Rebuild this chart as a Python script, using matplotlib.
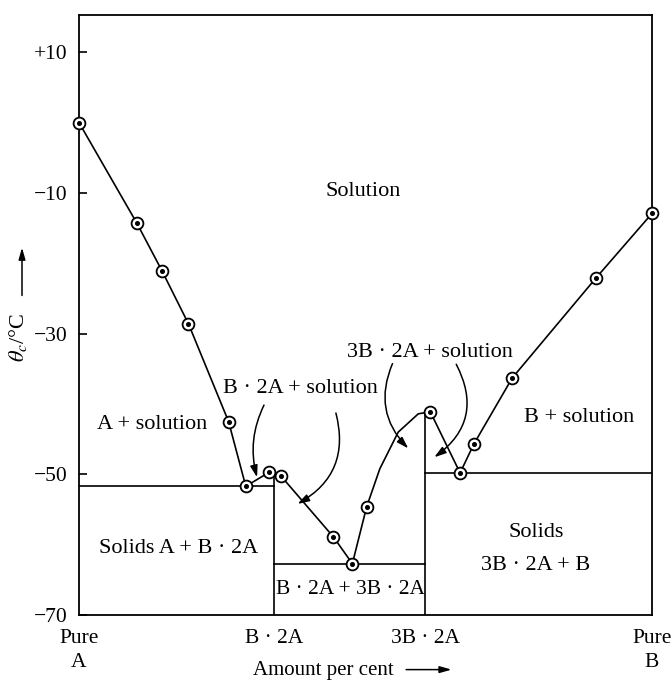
import matplotlib.pyplot as plt

plt.rcParams['font.family'] = ['Liberation Serif', 'DejaVu Sans']
plt.rcParams['mathtext.fontset'] = 'stix'

# measured freezing points (composition in % B, temperature in deg C)
meas_x = [0, 10.1, 14.5, 19.1, 26.1, 29.1, 33.2, 35.2, 44.4, 47.7, 50.2,
          61.3, 66.5, 68.9, 75.6, 90.2, 100]
meas_t = [0, -14.3, -21.1, -28.6, -42.5, -51.7, -49.7, -50.2, -58.9, -62.7, -54.6,
          -41.1, -49.8, -45.7, -36.3, -22.1, -12.9]

arc_x = [52.5, 55.7, 59.2]
arc_t = [-49.2, -44.0, -41.4]

# compounds and eutectic temperatures
compound_x = [34.1, 60.4]
compound_top = [-50.4, -41.1]
eutectic_t = [-51.7, -62.7, -49.8]

tick_t = [10, -10, -30, -50, -70]
tick_t_labels = ['+10', '\u221210', '\u221230', '\u221250', '\u221270']
tick_x = [0, compound_x[0], compound_x[1], 100]
tick_x_labels = ['Pure\nA', 'B \u00b7 2A', '3B \u00b7 2A', 'Pure\nB']

fig = plt.figure(figsize=(6.72, 6.81), dpi=100)
ax = fig.add_axes([0.1176, 0.0969, 0.8527, 0.881])

line_x = meas_x[:11] + arc_x + meas_x[11:]
line_t = meas_t[:11] + arc_t + meas_t[11:]
ax.plot(line_x, line_t, color='black', lw=1.2, zorder=2)

# phase boundaries
ax.plot([0, compound_x[0]], [eutectic_t[0]] * 2, color='black', lw=1.2)
ax.plot([compound_x[0], compound_x[1]], [eutectic_t[1]] * 2, color='black', lw=1.2)
ax.plot([compound_x[1], 100], [eutectic_t[2]] * 2, color='black', lw=1.2)
for cx, top in zip(compound_x, compound_top):
    ax.plot([cx, cx], [top, -70], color='black', lw=1.2)

# circled-dot markers
ax.plot(meas_x, meas_t, 'o', ms=8.5, mfc='white', mec='black', mew=1.3,
        zorder=3, clip_on=False)
ax.plot(meas_x, meas_t, 'o', ms=2.6, color='black', zorder=4, clip_on=False)

fs = 16
ax.text(49.6, -9.8, 'Solution', ha='center', va='center', fontsize=fs)
ax.text(12.7, -42.9, 'A + solution', ha='center', va='center', fontsize=fs)
ax.text(38.6, -37.8, 'B \u00b7 2A + solution', ha='center', va='center', fontsize=fs)
ax.text(61.3, -32.7, '3B \u00b7 2A + solution', ha='center', va='center', fontsize=fs)
ax.text(87.3, -41.9, 'B + solution', ha='center', va='center', fontsize=fs)
ax.text(17.4, -60.5, 'Solids A + B \u00b7 2A', ha='center', va='center', fontsize=fs)
ax.text(79.7, -58.2, 'Solids', ha='center', va='center', fontsize=fs)
ax.text(79.7, -62.9, '3B \u00b7 2A + B', ha='center', va='center', fontsize=fs)
ax.text(47.3, -66.4, 'B \u00b7 2A + 3B \u00b7 2A', ha='center', va='center', fontsize=15.5)

# curved pointer arrows from the labels
arr = dict(arrowstyle='-|>,head_length=0.7,head_width=0.22', color='black', lw=1.1)
ax.annotate('', xy=(31.2, -50.8), xytext=(32.5, -39.8),
            arrowprops=dict(arr, connectionstyle='arc3,rad=0.2'))
ax.annotate('', xy=(37.7, -54.4), xytext=(44.7, -40.9),
            arrowprops=dict(arr, connectionstyle='arc3,rad=-0.4'))
ax.annotate('', xy=(57.8, -46.6), xytext=(54.9, -33.9),
            arrowprops=dict(arr, connectionstyle='arc3,rad=0.35'))
ax.annotate('', xy=(61.6, -47.8), xytext=(65.6, -34.0),
            arrowprops=dict(arr, connectionstyle='arc3,rad=-0.45'))

ax.set_xlim(0, 100)
ax.set_ylim(-70, 15.3)
ax.set_yticks(tick_t)
ax.set_yticklabels(tick_t_labels, fontsize=15.5)
ax.set_xticks(tick_x)
ax.set_xticklabels(tick_x_labels, fontsize=15.5, linespacing=1.35)
ax.tick_params(axis='y', direction='in', length=6, width=1.2, pad=8)
ax.tick_params(axis='x', length=0, pad=10)
for s in ax.spines.values():
    s.set_linewidth(1.3)

# axis titles with arrows
ax.text(-0.106, 0.463, '$\\theta_c$/\u00b0C', transform=ax.transAxes,
        rotation=90, ha='center', va='center', fontsize=16)
ax.annotate('', xy=(-0.0995, 0.617), xytext=(-0.0995, 0.528),
            xycoords='axes fraction', textcoords='axes fraction',
            arrowprops=dict(arrowstyle='-|>,head_length=0.7,head_width=0.2',
                            color='black', lw=1.1), annotation_clip=False)
ax.text(0.426, -0.093, 'Amount per cent', transform=ax.transAxes,
        ha='center', va='center', fontsize=15)
ax.annotate('', xy=(0.655, -0.091), xytext=(0.566, -0.091),
            xycoords='axes fraction', textcoords='axes fraction',
            arrowprops=dict(arrowstyle='-|>,head_length=0.7,head_width=0.2',
                            color='black', lw=1.1), annotation_clip=False)

fig.savefig('out.png', dpi=100)
